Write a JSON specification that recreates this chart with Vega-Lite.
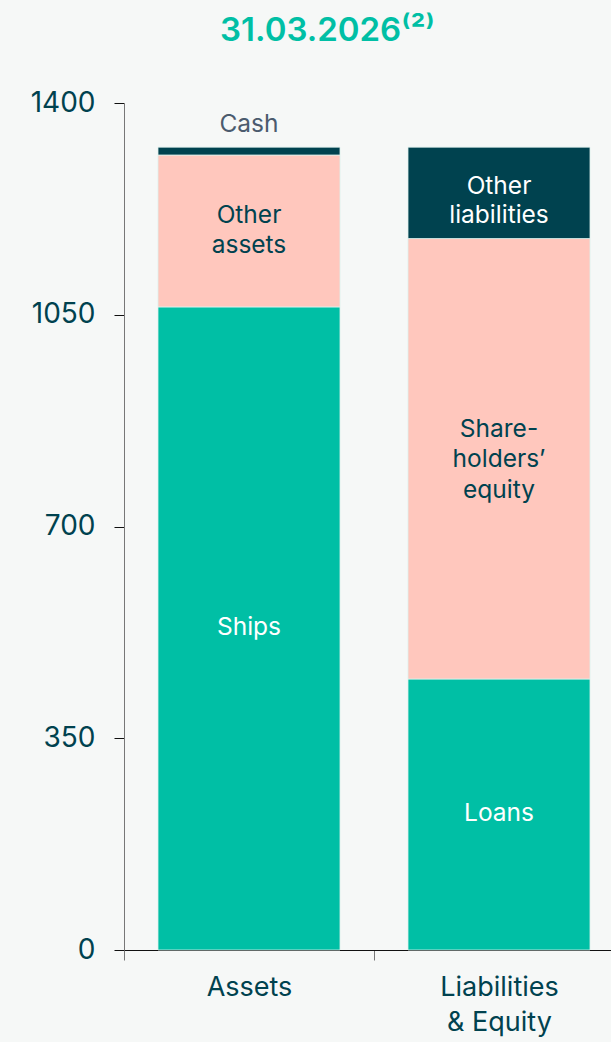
{
  "$schema": "https://vega.github.io/schema/vega-lite/v6.json",
  "width": 487,
  "height": 847,
  "autosize": {"type": "none"},
  "padding": {"left": 124, "top": 103, "right": 0, "bottom": 92},
  "background": "#F6F8F7",
  "config": {"view": {"stroke": null}, "font": "Inter"},
  "title": {
    "text": "31.03.2026⁽²⁾",
    "color": "#00BFA5",
    "fontSize": 33,
    "fontWeight": 600,
    "frame": "group",
    "anchor": "middle",
    "dx": -40,
    "offset": 15,
    "baseline": "alphabetic"
  },
  "data": {
    "values": [
      {"side": "Assets", "segment": "Ships", "label": "Ships", "value": 1063, "order": 1},
      {"side": "Assets", "segment": "Other assets", "label": "Other\nassets", "value": 251, "order": 2},
      {"side": "Assets", "segment": "Cash", "label": "Cash", "value": 13, "order": 3},
      {"side": "Liabilities & Equity", "segment": "Loans", "label": "Loans", "value": 448, "order": 1},
      {"side": "Liabilities & Equity", "segment": "Shareholders' equity", "label": "Share-\nholders’\nequity", "value": 728, "order": 2},
      {"side": "Liabilities & Equity", "segment": "Other liabilities", "label": "Other\nliabilities", "value": 151, "order": 3}
    ]
  },
  "transform": [
    {"stack": "value", "groupby": ["side"], "sort": [{"field": "order", "order": "ascending"}], "as": ["y0", "y1"]},
    {"calculate": "(datum.y0 + datum.y1) / 2", "as": "mid"}
  ],
  "encoding": {
    "x": {
      "field": "side",
      "type": "nominal",
      "sort": ["Assets", "Liabilities & Equity"],
      "scale": {"range": [0, 500], "paddingInner": 0, "paddingOuter": 0},
      "axis": {
        "title": null,
        "labelAngle": 0,
        "labelFontSize": 27,
        "labelColor": "#00424F",
        "labelPadding": 14,
        "labelLineHeight": 35,
        "labelExpr": "datum.value === 'Liabilities & Equity' ? ['Liabilities', '& Equity'] : datum.value",
        "tickBand": "extent",
        "tickSize": 10,
        "tickColor": "#777777",
        "domainColor": "#111111",
        "domainWidth": 1.2
      }
    }
  },
  "layer": [
    {
      "mark": {"type": "bar", "width": {"band": 0.728}, "stroke": "#DDF0EC", "strokeWidth": 0.8},
      "encoding": {
        "y": {
          "field": "y1",
          "type": "quantitative",
          "scale": {"domain": [0, 1400], "nice": false},
          "axis": {
            "title": null,
            "values": [0, 350, 700, 1050, 1400],
            "format": "d",
            "grid": false,
            "labelFontSize": 28,
            "labelColor": "#00424F",
            "labelPadding": 19,
            "tickSize": 10,
            "tickColor": "#111111",
            "domainColor": "#777777"
          }
        },
        "y2": {"field": "y0"},
        "color": {
          "field": "segment",
          "type": "nominal",
          "scale": {
            "domain": ["Ships", "Other assets", "Cash", "Loans", "Shareholders' equity", "Other liabilities"],
            "range": ["#00BFA5", "#FFC7BD", "#00424F", "#00BFA5", "#FFC7BD", "#00424F"]
          },
          "legend": null
        }
      }
    },
    {
      "transform": [{"filter": "datum.segment === 'Ships' || datum.segment === 'Loans'"}],
      "mark": {"type": "text", "fontSize": 24.5, "align": "center", "baseline": "middle", "color": "#FFFFFF"},
      "encoding": {
        "y": {"field": "mid", "type": "quantitative"},
        "text": {"field": "label"}
      }
    },
    {
      "transform": [{"filter": "datum.segment === 'Other assets'"}],
      "mark": {"type": "text", "fontSize": 24.5, "lineHeight": 30, "lineBreak": "\n", "align": "center", "baseline": "middle", "dy": -15, "color": "#00424F"},
      "encoding": {
        "y": {"field": "mid", "type": "quantitative"},
        "text": {"field": "label"}
      }
    },
    {
      "transform": [{"filter": "datum.segment === 'Other liabilities'"}],
      "mark": {"type": "text", "fontSize": 24.5, "lineHeight": 29, "lineBreak": "\n", "align": "center", "baseline": "middle", "dy": -6, "color": "#FFFFFF"},
      "encoding": {
        "y": {"field": "mid", "type": "quantitative"},
        "text": {"field": "label"}
      }
    },
    {
      "transform": [{"filter": "datum.segment === 'Shareholders\\' equity'"}],
      "mark": {"type": "text", "fontSize": 24.5, "lineHeight": 30.5, "lineBreak": "\n", "align": "center", "baseline": "middle", "dy": -29, "color": "#00424F"},
      "encoding": {
        "y": {"field": "mid", "type": "quantitative"},
        "text": {"field": "label"}
      }
    },
    {
      "transform": [{"filter": "datum.segment === 'Cash'"}],
      "mark": {"type": "text", "fontSize": 24.5, "align": "center", "baseline": "middle", "dy": -26, "color": "#4B5B6E"},
      "encoding": {
        "y": {"field": "mid", "type": "quantitative"},
        "text": {"field": "label"}
      }
    }
  ]
}
